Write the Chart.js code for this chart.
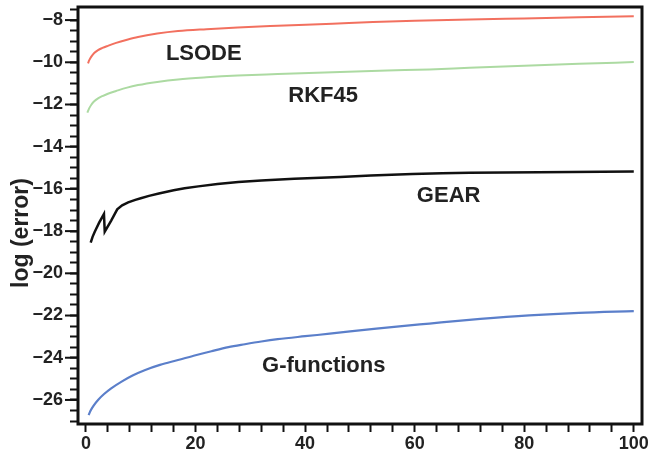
<!DOCTYPE html>
<html>
<head>
<meta charset="utf-8">
<script src="https://cdn.jsdelivr.net/npm/chart.js@4/dist/chart.umd.min.js"></script>
<style>
  body { margin: 0; background: #fff; }
  #wrap { width: 650px; height: 455px; }
</style>
</head>
<body>
<div id="wrap"><canvas id="chart" width="650" height="455"></canvas></div>
<script>
// values
const lsodeX = [0.36, 0.6, 1, 1.5, 2.2, 3, 4, 5.5, 7.5, 9.5, 13, 16.8, 22, 27.7, 35, 45, 52.4, 60, 70, 80, 90, 100];
const lsodeY = [-10.05, -9.9, -9.72, -9.56, -9.42, -9.32, -9.22, -9.08, -8.93, -8.8, -8.64, -8.52, -8.43, -8.35, -8.27, -8.17, -8.09, -8.03, -7.97, -7.92, -7.87, -7.82];

const rkfX = [0.24, 0.6, 1, 1.5, 2.2, 3, 4, 5.5, 7.5, 9.5, 13, 16.8, 22, 27.7, 35, 45, 55, 62.7, 70, 80, 90, 100];
const rkfY = [-12.39, -12.17, -12.0, -11.85, -11.71, -11.6, -11.49, -11.36, -11.2, -11.08, -10.93, -10.81, -10.71, -10.63, -10.56, -10.47, -10.39, -10.34, -10.26, -10.16, -10.07, -9.99];

const gearX = [0.86, 1.2, 1.6, 2.4, 3.28, 3.42, 4.6, 5.7, 6.6, 7.7, 9, 10, 11.5, 13.3, 16, 18, 20.5, 24, 27.8, 32, 38, 46.4, 52, 59.6, 65, 70, 82.7, 100];
const gearY = [-18.55, -18.27, -18.03, -17.6, -17.19, -18.03, -17.5, -16.97, -16.78, -16.64, -16.52, -16.44, -16.33, -16.22, -16.06, -15.97, -15.88, -15.77, -15.67, -15.6, -15.52, -15.43, -15.36, -15.29, -15.26, -15.24, -15.21, -15.17];

const gfX = [0.49, 0.8, 1.3, 2.2, 3.3, 4.6, 6.5, 8.5, 10.7, 13.5, 16.8, 20, 22.9, 26, 29, 32, 35, 40, 44.5, 53, 62.7, 72, 80.9, 90, 100];
const gfY = [-26.72, -26.52, -26.3, -26.0, -25.72, -25.45, -25.13, -24.84, -24.59, -24.34, -24.11, -23.88, -23.69, -23.5, -23.36, -23.23, -23.12, -22.98, -22.86, -22.62, -22.38, -22.16, -21.99, -21.87, -21.79];

// curve names, placed in data coordinates
const labelTexts = ['LSODE', 'RKF45', 'GEAR', 'G-functions'];
const labelX = [21.5, 43.3, 66.2, 43.4];
const labelY = [-9.54, -11.55, -16.29, -24.35];

const toPoints = (xs, ys) => xs.map((x, i) => ({ x, y: ys[i] }));
const FONT = '"Liberation Sans", Arial, sans-serif';

const onMultiple = (v, step) => Math.abs(v / step - Math.round(v / step)) < 1e-6;

const framePlugin = {
  id: 'frame',
  afterDraw(chart) {
    const { ctx, chartArea: a, scales } = chart;
    ctx.save();
    // longer major ticks on y
    ctx.strokeStyle = '#111';
    ctx.lineWidth = 2;
    scales.y.ticks.forEach(t => {
      if (onMultiple(t.value, 2)) {
        const py = scales.y.getPixelForValue(t.value);
        ctx.beginPath();
        ctx.moveTo(a.left - 13, py);
        ctx.lineTo(a.left, py);
        ctx.stroke();
      }
    });
    ctx.lineWidth = 3;
    ctx.strokeRect(a.left, a.top, a.right - a.left, a.bottom - a.top);

    ctx.fillStyle = '#222';
    // y axis title
    ctx.save();
    ctx.translate(22, 233);
    ctx.rotate(-Math.PI / 2);
    ctx.font = 'bold 23px ' + FONT;
    ctx.textAlign = 'center';
    ctx.textBaseline = 'middle';
    ctx.fillText('log (error)', 0, 0);
    ctx.restore();

    // curve names
    ctx.font = 'bold 22px ' + FONT;
    ctx.textAlign = 'center';
    ctx.textBaseline = 'alphabetic';
    labelTexts.forEach((txt, i) => {
      const px = scales.x.getPixelForValue(labelX[i]);
      const py = scales.y.getPixelForValue(labelY[i]);
      ctx.fillText(txt, px, py + 7);
    });
    ctx.restore();
  }
};

const line = (data, color, width, smooth) => ({
  data,
  borderColor: color,
  borderWidth: width,
  pointRadius: 0,
  fill: false,
  tension: smooth ? 0.4 : 0,
  cubicInterpolationMode: smooth ? 'monotone' : 'default'
});

new Chart(document.getElementById('chart'), {
  type: 'line',
  data: {
    datasets: [
      line(toPoints(lsodeX, lsodeY), '#f2705f', 2, true),
      line(toPoints(rkfX, rkfY), '#acdaa2', 2, true),
      line(toPoints(gearX, gearY), '#111111', 2.5, false),
      line(toPoints(gfX, gfY), '#5b7fca', 2.2, true)
    ]
  },
  options: {
    responsive: false,
    animation: false,
    devicePixelRatio: 1,
    layout: { padding: { top: 7, right: 8, left: 0, bottom: 0 } },
    plugins: { legend: { display: false }, tooltip: { enabled: false } },
    scales: {
      x: {
        type: 'linear',
        min: -1.46,
        max: 101.5,
        afterFit: s => { s.height = 31; s.paddingLeft = 0; s.paddingRight = 0; },
        afterBuildTicks: s => { s.ticks = s.ticks.filter(t => onMultiple(t.value, 4)); },
        border: { display: false },
        grid: { drawOnChartArea: false, tickLength: 8, tickColor: '#111', tickWidth: 2 },
        ticks: {
          stepSize: 4,
          includeBounds: false,
          autoSkip: false,
          maxRotation: 0,
          padding: 1,
          color: '#222',
          font: { family: FONT, size: 18, weight: 'bold' },
          callback: v => (onMultiple(v, 20) ? String(Math.round(v)) : '')
        }
      },
      y: {
        type: 'linear',
        min: -27.14,
        max: -7.38,
        afterFit: s => { s.width = 78; s.paddingTop = 0; s.paddingBottom = 0; },
        afterBuildTicks: s => { s.ticks = s.ticks.filter(t => onMultiple(t.value, 0.5)); },
        border: { display: false },
        grid: { drawOnChartArea: false, tickLength: 8, tickColor: '#111', tickWidth: 2 },
        ticks: {
          stepSize: 0.5,
          includeBounds: false,
          autoSkip: false,
          padding: 7,
          color: '#222',
          font: { family: FONT, size: 18, weight: 'bold' },
          callback: v => (onMultiple(v, 2) ? '\u2212' + Math.abs(Math.round(v)) : '')
        }
      }
    }
  },
  plugins: [framePlugin]
});
</script>
</body>
</html>
